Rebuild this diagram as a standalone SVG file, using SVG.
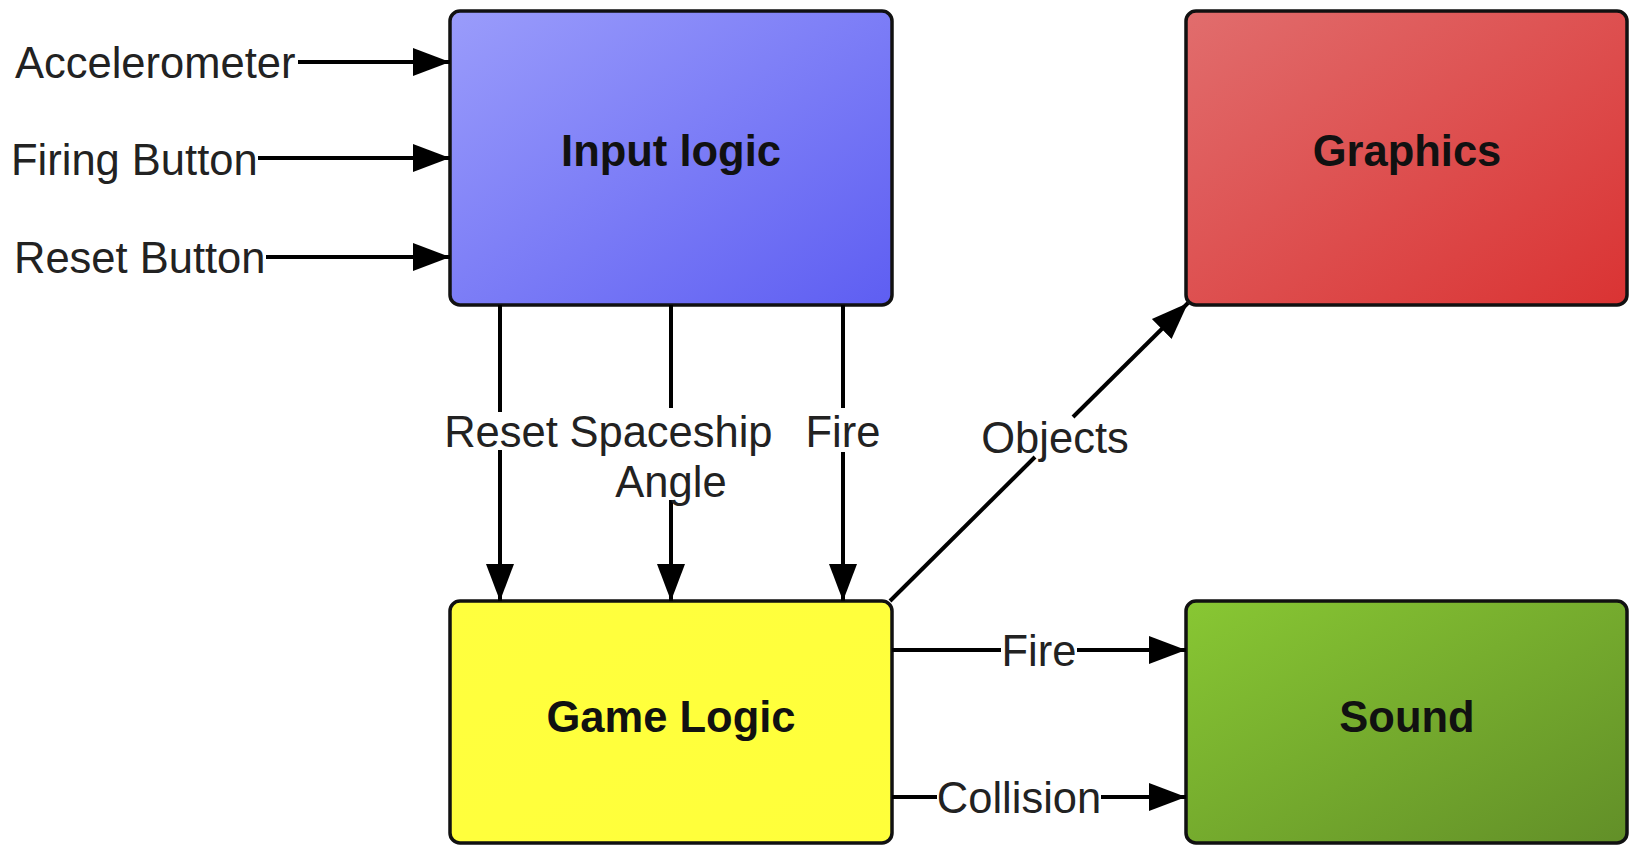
<svg xmlns="http://www.w3.org/2000/svg" width="1634" height="846" viewBox="0 0 1634 846">
  <style>
    .box { stroke: #111; stroke-width: 3.5; }
    .title { font-family: "Liberation Sans", Arial, sans-serif; font-size: 43.5px; font-weight: bold; fill: #111; text-anchor: middle; }
    .lbl { font-family: "Liberation Sans", Arial, sans-serif; font-size: 43.5px; fill: #222; }
    .mid { text-anchor: middle; }
    .wire { stroke: #000; stroke-width: 4; fill: none; }
  </style>
  <defs>
    <linearGradient id="gBlue" x1="0" y1="0" x2="1" y2="1">
      <stop offset="0" stop-color="#9A9CFB"/>
      <stop offset="1" stop-color="#5E5EF2"/>
    </linearGradient>
    <linearGradient id="gRed" x1="0" y1="0" x2="1" y2="1">
      <stop offset="0" stop-color="#E16D6D"/>
      <stop offset="1" stop-color="#DA3333"/>
    </linearGradient>
    <linearGradient id="gYellow" x1="0" y1="0" x2="1" y2="1">
      <stop offset="0" stop-color="#FFFF3E"/>
      <stop offset="1" stop-color="#FFFF3A"/>
    </linearGradient>
    <linearGradient id="gGreen" x1="0" y1="0" x2="1" y2="1">
      <stop offset="0" stop-color="#88C733"/>
      <stop offset="1" stop-color="#628F28"/>
    </linearGradient>
    <marker id="arrow" markerUnits="userSpaceOnUse" markerWidth="38" markerHeight="30" refX="37" refY="15" orient="auto">
      <path d="M0,1 L37,15 L0,29 z" fill="#000"/>
    </marker>
  </defs>

  <!-- nodes -->
  <g id="input-logic">
    <rect class="box" x="450" y="11" width="442" height="294" rx="10" fill="url(#gBlue)"/>
    <text class="title" x="671" y="166">Input logic</text>
  </g>
  <g id="graphics">
    <rect class="box" x="1186" y="11" width="441" height="294" rx="10" fill="url(#gRed)"/>
    <text class="title" x="1407" y="166">Graphics</text>
  </g>
  <g id="game-logic">
    <rect class="box" x="450" y="601" width="442" height="242" rx="10" fill="url(#gYellow)"/>
    <text class="title" x="671" y="732">Game Logic</text>
  </g>
  <g id="sound">
    <rect class="box" x="1186" y="601" width="441" height="242" rx="10" fill="url(#gGreen)"/>
    <text class="title" x="1407" y="732">Sound</text>
  </g>

  <!-- connectors -->
  <g id="connectors">
    <!-- external inputs -->
    <line class="wire" x1="298" y1="62" x2="450" y2="62" marker-end="url(#arrow)"/>
    <text class="lbl" x="15" y="78">Accelerometer</text>
    <line class="wire" x1="258" y1="158" x2="450" y2="158" marker-end="url(#arrow)"/>
    <text class="lbl" x="11" y="175">Firing Button</text>
    <line class="wire" x1="266" y1="257" x2="450" y2="257" marker-end="url(#arrow)"/>
    <text class="lbl" x="14" y="273">Reset Button</text>

    <!-- input logic to game logic -->
    <line class="wire" x1="500" y1="305" x2="500" y2="412"/>
    <line class="wire" x1="500" y1="450" x2="500" y2="601" marker-end="url(#arrow)"/>
    <text class="lbl mid" x="501" y="447">Reset</text>

    <line class="wire" x1="671" y1="305" x2="671" y2="408"/>
    <line class="wire" x1="671" y1="500" x2="671" y2="601" marker-end="url(#arrow)"/>
    <text class="lbl mid" x="671" y="447">Spaceship</text>
    <text class="lbl mid" x="671" y="497">Angle</text>

    <line class="wire" x1="843" y1="305" x2="843" y2="408"/>
    <line class="wire" x1="843" y1="452" x2="843" y2="601" marker-end="url(#arrow)"/>
    <text class="lbl mid" x="843" y="447">Fire</text>

    <!-- game logic to graphics -->
    <line class="wire" x1="890" y1="601" x2="1035" y2="457"/>
    <line class="wire" x1="1073" y1="417" x2="1188" y2="303" marker-end="url(#arrow)"/>
    <text class="lbl mid" x="1055" y="453">Objects</text>

    <!-- game logic to sound -->
    <line class="wire" x1="892" y1="650" x2="1001" y2="650"/>
    <line class="wire" x1="1077" y1="650" x2="1186" y2="650" marker-end="url(#arrow)"/>
    <text class="lbl mid" x="1039" y="666">Fire</text>
    <line class="wire" x1="892" y1="797" x2="937" y2="797"/>
    <line class="wire" x1="1101" y1="797" x2="1186" y2="797" marker-end="url(#arrow)"/>
    <text class="lbl mid" x="1019" y="813">Collision</text>
  </g>
</svg>
